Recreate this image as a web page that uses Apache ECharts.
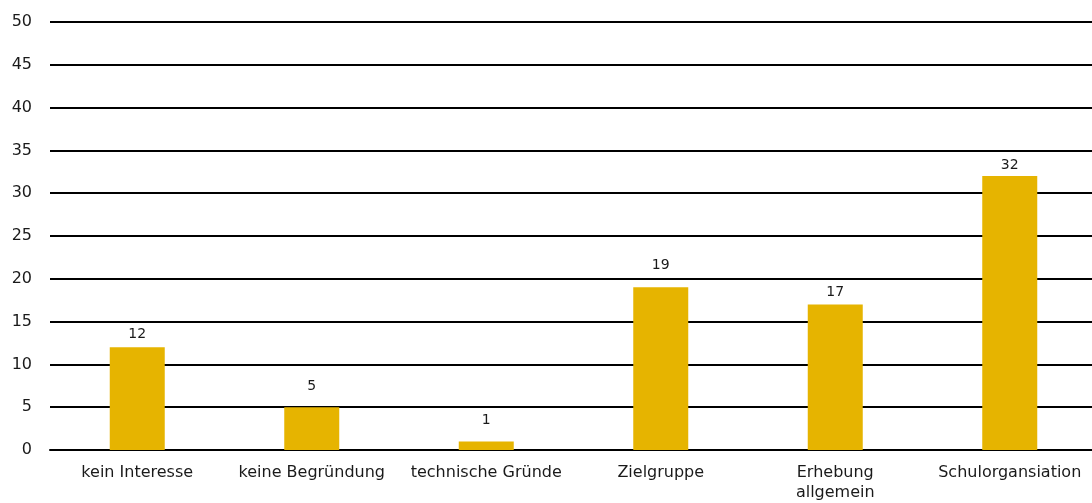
<!DOCTYPE html>
<html>
<head>
<meta charset="utf-8">
<script src="https://cdn.jsdelivr.net/npm/echarts@6/dist/echarts.min.js"></script>
<style>
  html, body { margin: 0; padding: 0; background: #fff; }
  #chart { width: 1092px; height: 503px; }
</style>
</head>
<body>
<div id="chart"></div>
<script>
var categories = ['kein Interesse', 'keine Begründung', 'technische Gründe', 'Zielgruppe', 'Erhebung\nallgemein', 'Schulorgansiation'];
var values = [12, 5, 1, 19, 17, 32];
// gap between bar top and its value label (px)
var labelGaps = [6, 14, 14, 15, 5, 4];

var dom = document.getElementById('chart');
var myChart = echarts.init(dom);

var font = 'DejaVu Sans';

var seriesData = values.map(function (v, i) {
    return { value: v, label: { distance: labelGaps[i] } };
});

var option = {
    animation: false,
    grid: { left: 50, right: -5, top: 22, bottom: 53, outerBoundsMode: 'none', containLabel: false },
    xAxis: {
        type: 'category',
        data: categories,
        axisLine: { show: true, lineStyle: { color: '#000', width: 2 } },
        axisTick: { show: false },
        axisLabel: {
            interval: 0,
            margin: 13,
            color: '#1a1a1a',
            fontFamily: font,
            fontSize: 16,
            lineHeight: 20
        }
    },
    yAxis: {
        type: 'value',
        min: 0,
        max: 50,
        interval: 5,
        axisLine: { show: false },
        axisTick: { show: false },
        axisLabel: {
            margin: 18,
            color: '#1a1a1a',
            fontFamily: font,
            fontSize: 16
        },
        splitLine: { lineStyle: { color: '#000', width: 2 } }
    },
    series: [{
        type: 'bar',
        data: seriesData,
        barWidth: 55,
        itemStyle: { color: '#E6B400' },
        label: {
            show: true,
            position: 'top',
            color: '#1a1a1a',
            fontFamily: font,
            fontSize: 14
        }
    }]
};
myChart.setOption(option, true);
</script>
</body>
</html>
